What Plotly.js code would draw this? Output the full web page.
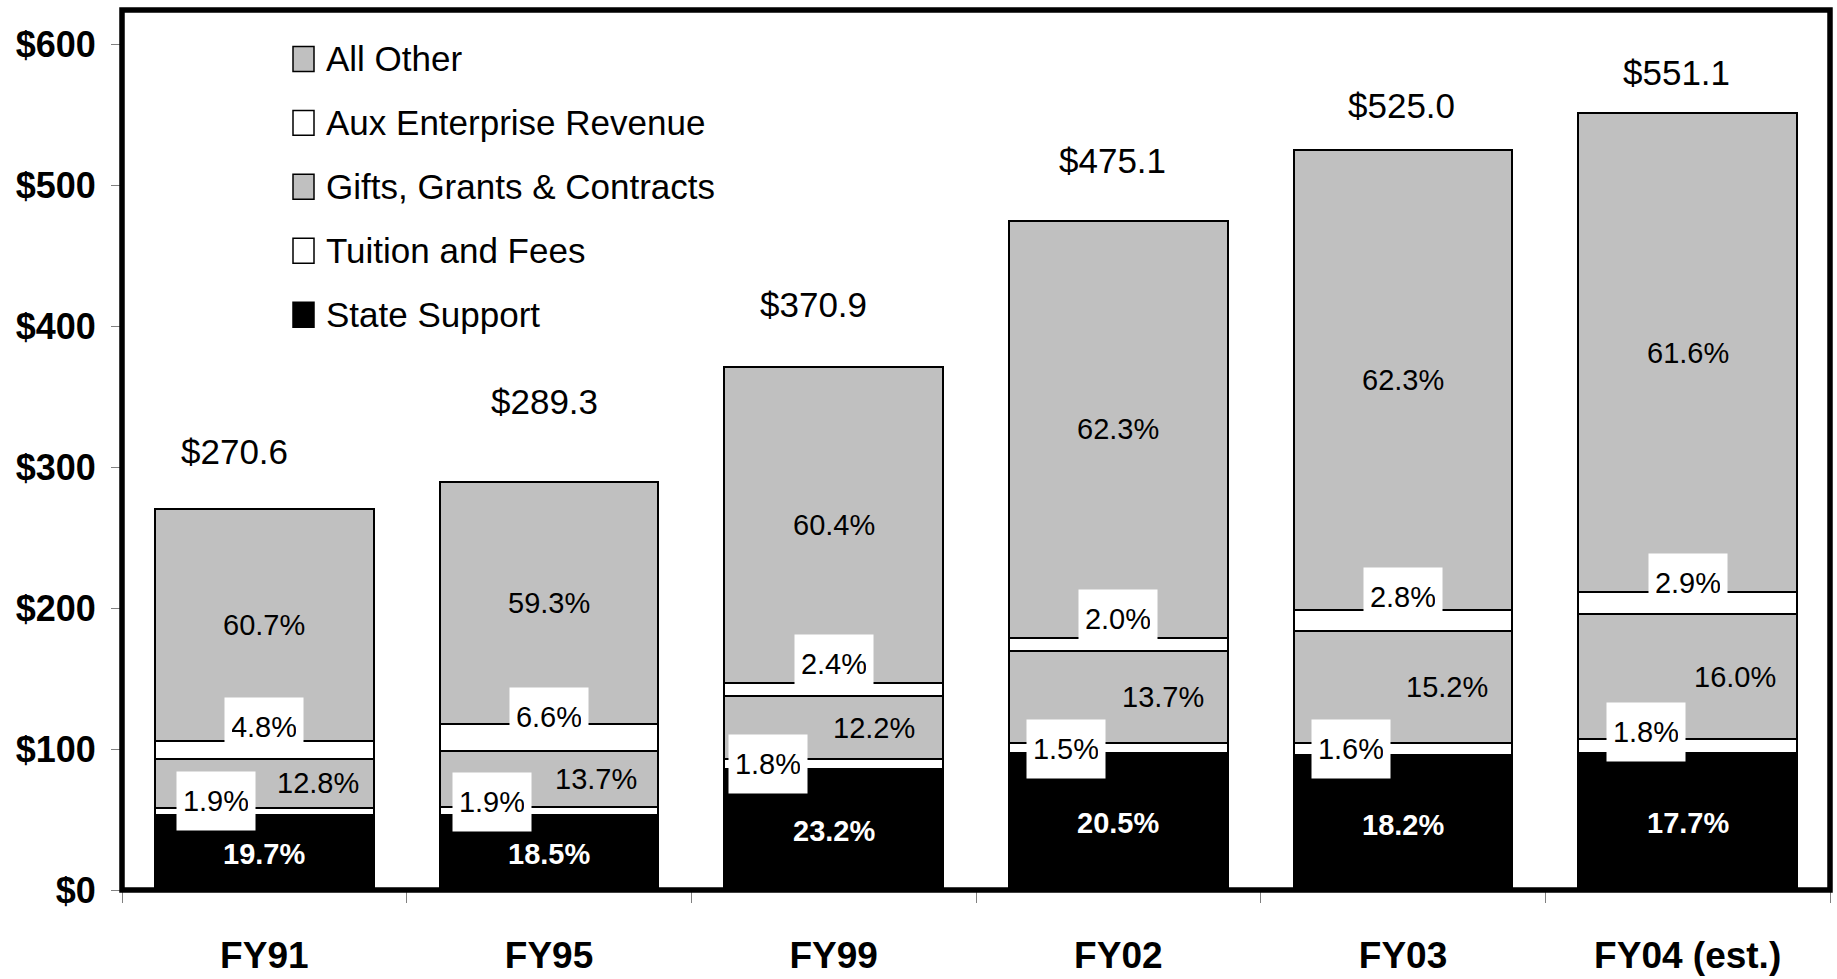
<!DOCTYPE html>
<html>
<head>
<meta charset="utf-8">
<script src="https://cdn.plot.ly/plotly-3.0.1.min.js"></script>
<style>html,body{margin:0;padding:0;background:#fff;}#chart{width:1837px;height:979px;}</style>
</head>
<body>
<div id="chart"></div>
<script>
// ---- data (values in $ millions) ----
const categories   = ['FY91', 'FY95', 'FY99', 'FY02', 'FY03', 'FY04 (est.)'];
const totalLabels  = ['$270.6', '$289.3', '$370.9', '$475.1', '$525.0', '$551.1'];
const stateSupport = [53.3, 53.5, 86.0, 97.4, 95.6, 97.5];
const tuition      = [5.1, 5.5, 6.7, 7.1, 8.4, 9.9];
const gifts        = [34.6, 39.6, 45.2, 65.1, 79.8, 88.2];
const auxRevenue   = [13.0, 19.1, 8.9, 9.5, 14.7, 16.0];
const allOther     = [164.6, 171.6, 224.1, 296.0, 326.5, 339.5];
const statePct     = ['19.7%', '18.5%', '23.2%', '20.5%', '18.2%', '17.7%'];
const tuitionPct   = ['1.9%', '1.9%', '1.8%', '1.5%', '1.6%', '1.8%'];
const giftsPct     = ['12.8%', '13.7%', '12.2%', '13.7%', '15.2%', '16.0%'];
const auxPct       = ['4.8%', '6.6%', '2.4%', '2.0%', '2.8%', '2.9%'];
const otherPct     = ['60.7%', '59.3%', '60.4%', '62.3%', '62.3%', '61.6%'];
const yTickValues  = [0, 100, 200, 300, 400, 500, 600];
const yTickLabels  = ['$0', '$100', '$200', '$300', '$400', '$500', '$600'];

// ---- styling / label nudges (pixels) ----
const FONT = 'Arial, "Liberation Sans", sans-serif';
const PCT_SIZE = 29;
const totalXShift   = [-30, -5, -20, -6, -2, -11];
const totalYShift   = [57, 81, 63, 60, 45, 41];
const tuitionXShift = [-48, -57, -66, -52, -52, -42];
const tuitionYShift = [7, 5, -5, -6, -6, 7];
const giftsXShift   = [54, 47, 40, 45, 44, 47];
const auxYShift     = [14, 7, 19, 19, 13, 9];

const series = [
  {name: 'State Support', y: stateSupport, color: '#000000'},
  {name: 'Tuition and Fees', y: tuition, color: '#ffffff'},
  {name: 'Gifts, Grants & Contracts', y: gifts, color: '#c0c0c0'},
  {name: 'Aux Enterprise Revenue', y: auxRevenue, color: '#ffffff'},
  {name: 'All Other', y: allOther, color: '#c0c0c0'}
];

const traces = series.map(s => ({
  type: 'bar',
  name: s.name,
  x: categories,
  y: s.y,
  marker: {color: s.color, line: {color: '#000000', width: 2}},
  hoverinfo: 'skip',
  showlegend: false
}));

// cumulative bases / tops
const cum = [];
let running = categories.map(() => 0);
series.forEach(s => {
  const base = running.slice();
  running = running.map((v, j) => v + s.y[j]);
  cum.push({base: base, top: running.slice()});
});

// ---- layout geometry (pixels) ----
const W = 1837, H = 979;
const M = {l: 122, r: 7, t: 9.5, b: 88.5};
const plotW = W - M.l - M.r, plotH = H - M.t - M.b;
const px2x = p => (p - M.l) / plotW;
const px2y = p => (H - M.b - p) / plotH;

const ann = [];
const shapes = [];
const pctFont = {family: FONT, size: PCT_SIZE, color: '#000'};
categories.forEach((c, j) => {
  ann.push({x: c, y: cum[4].top[j], text: totalLabels[j], showarrow: false,
    xshift: totalXShift[j], yshift: totalYShift[j], yanchor: 'middle',
    font: {family: FONT, size: 35, color: '#000'}});
  ann.push({x: c, y: (cum[4].base[j] + cum[4].top[j]) / 2, text: otherPct[j], showarrow: false,
    font: pctFont});
  ann.push({x: c, y: (cum[0].base[j] + cum[0].top[j]) / 2, text: statePct[j], showarrow: false,
    yshift: -2, font: {family: FONT, size: PCT_SIZE, color: '#fff', weight: 'bold'}});
  ann.push({x: c, y: (cum[2].base[j] + cum[2].top[j]) / 2, text: giftsPct[j], showarrow: false,
    xshift: giftsXShift[j], font: pctFont});
  ann.push({x: c, y: cum[3].top[j], text: auxPct[j], showarrow: false, yshift: auxYShift[j],
    width: 64, height: 44, bgcolor: '#ffffff', borderpad: 7, font: pctFont});
  ann.push({x: c, y: cum[1].top[j], text: tuitionPct[j], showarrow: false,
    xshift: tuitionXShift[j], yshift: tuitionYShift[j],
    width: 64, height: 44, bgcolor: '#ffffff', borderpad: 7, font: pctFont});
});

// ---- legend (drawn in the plot, top item = top of stack) ----
const legendTop = 58.5, legendStep = 64;
series.slice().reverse().forEach((s, k) => {
  const cy = legendTop + k * legendStep;
  shapes.push({type: 'rect', xref: 'paper', yref: 'paper',
    x0: px2x(293), x1: px2x(314), y0: px2y(cy - 12.5), y1: px2y(cy + 12.5),
    fillcolor: s.color, line: {color: '#000', width: 1.5}});
  ann.push({xref: 'paper', yref: 'paper', x: px2x(324), y: px2y(cy), xanchor: 'left', yanchor: 'middle',
    text: s.name.replace('&', '&amp;'), showarrow: false,
    font: {family: FONT, size: 35, color: '#000'}});
});

// plot frame
shapes.push({type: 'rect', xref: 'paper', yref: 'paper', x0: 0, x1: 1, y0: 0, y1: 1,
  line: {color: '#000', width: 5.5}, fillcolor: 'rgba(0,0,0,0)', layer: 'above'});

const layout = {
  width: W, height: H,
  margin: M,
  paper_bgcolor: '#ffffff', plot_bgcolor: '#ffffff',
  barmode: 'stack',
  bargap: 0.232,
  showlegend: false,
  xaxis: {
    type: 'category',
    showline: false,
    ticks: 'outside', tickson: 'boundaries', ticklen: 12, tickcolor: '#808080', tickwidth: 1,
    ticklabelstandoff: 40,
    tickfont: {family: FONT, size: 37, color: '#000', weight: 'bold'},
    showgrid: false, zeroline: false
  },
  yaxis: {
    range: [0, 624.5],
    tickmode: 'array', tickvals: yTickValues, ticktext: yTickLabels,
    showline: false,
    ticks: 'outside', ticklen: 10, tickcolor: '#808080', tickwidth: 1,
    ticklabelstandoff: 8,
    tickfont: {family: FONT, size: 36, color: '#000', weight: 'bold'},
    showgrid: false, zeroline: false
  },
  shapes: shapes,
  annotations: ann
};

Plotly.newPlot('chart', traces, layout, {staticPlot: true, displayModeBar: false});
</script>
</body>
</html>
